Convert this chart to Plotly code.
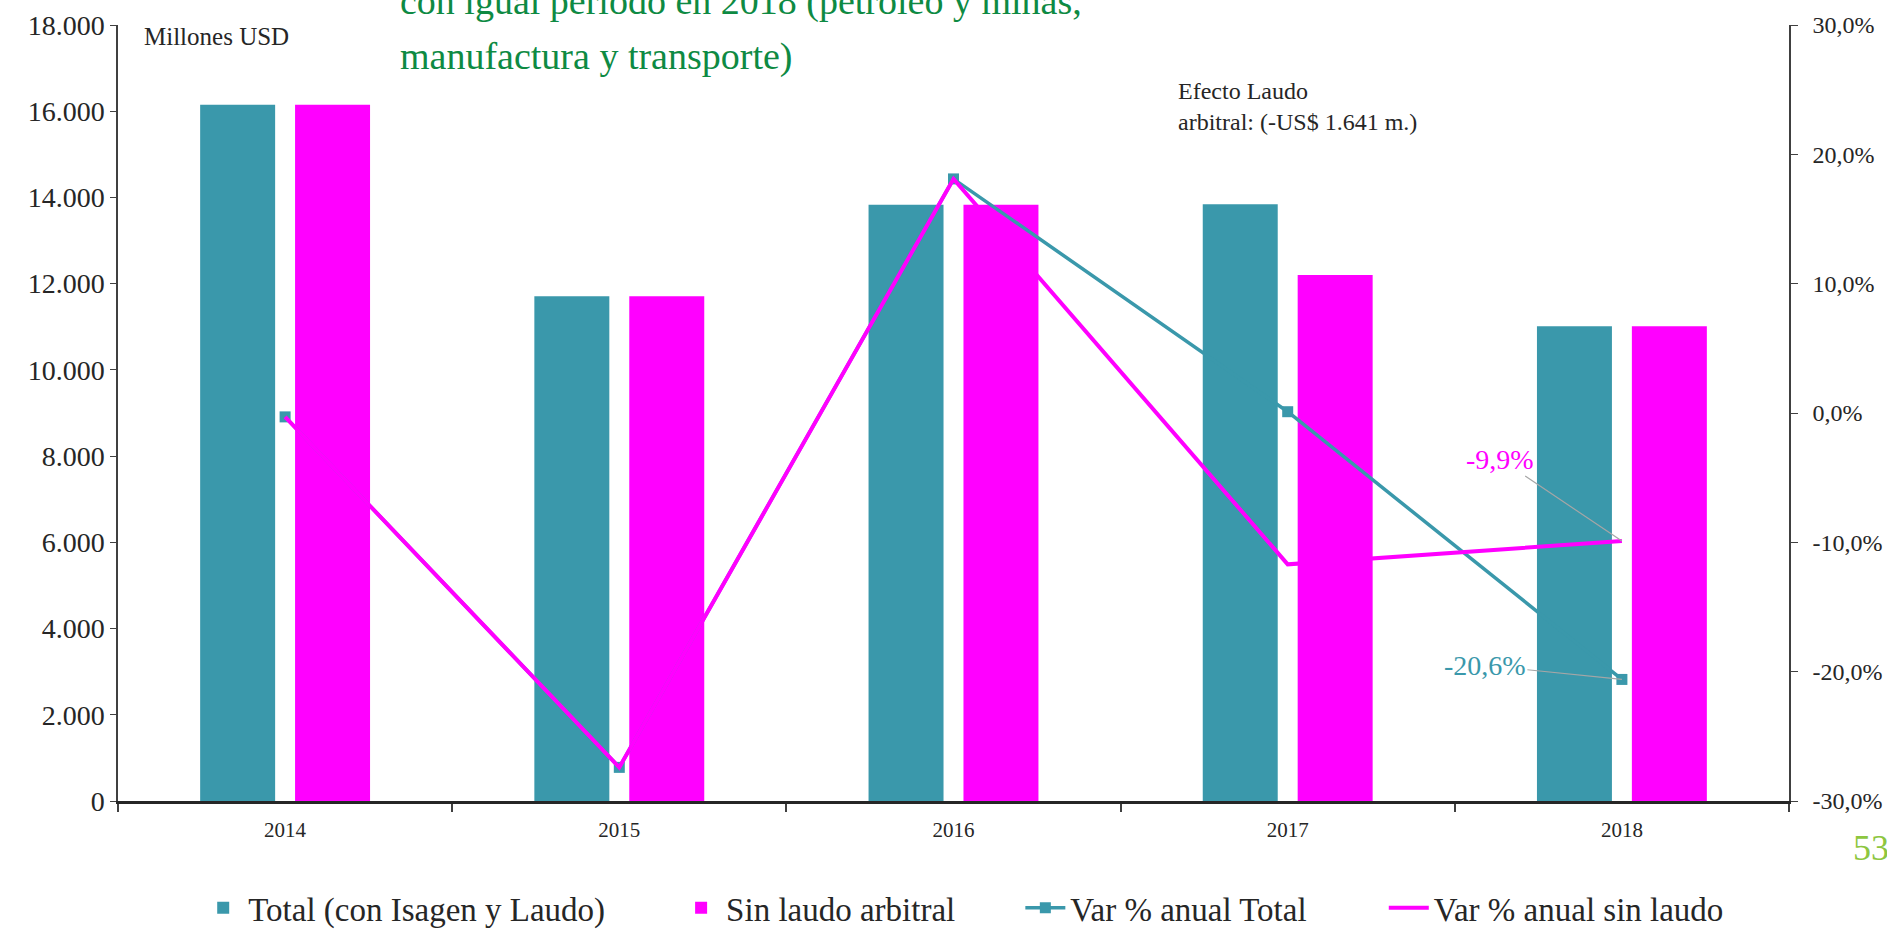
import plotly.graph_objects as go

years = ["2014", "2015", "2016", "2017", "2018"]
total = [16150, 11710, 13830, 13840, 11010]
sin_laudo = [16150, 11710, 13830, 12200, 11010]
var_total = [-0.003, -0.274, 0.181, 0.001, -0.206]
var_sin = [-0.003, -0.274, 0.181, -0.117, -0.099]

y2_ticks = [-0.3, -0.2, -0.1, 0.0, 0.1, 0.2, 0.3]
y2_labels = ["-30,0%", "-20,0%", "-10,0%", "0,0%", "10,0%", "20,0%", "30,0%"]

TEAL = "#3A98AB"
MAG = "#FF00FF"
TXT = "#262626"
FONT = "Liberation Serif"
LEG_FONT = dict(size=33, color=TXT, family=FONT)

fig = go.Figure()
fig.add_trace(go.Bar(x=years, y=total, name="Total (con Isagen y Laudo)",
                     marker=dict(color=TEAL, line=dict(width=0)), yaxis="y", legend="legend"))
fig.add_trace(go.Bar(x=years, y=sin_laudo, name="Sin laudo arbitral",
                     marker=dict(color=MAG, line=dict(width=0)), yaxis="y", legend="legend2"))
fig.add_trace(go.Scatter(x=years, y=var_total, name="Var % anual Total", yaxis="y2",
                         mode="lines+markers", line=dict(color=TEAL, width=3.5),
                         marker=dict(symbol="square", size=11, color=TEAL), legend="legend3"))
fig.add_trace(go.Scatter(x=years, y=var_sin, name="Var % anual sin laudo", yaxis="y2",
                         mode="lines", line=dict(color=MAG, width=4), legend="legend4"))

def leg(x):
    return dict(orientation="h", x=x, xanchor="left", y=-0.1375, yanchor="middle",
                font=LEG_FONT, itemwidth=40, bgcolor="rgba(0,0,0,0)")

fig.update_layout(
    width=1887, height=931,
    margin=dict(l=118, r=98, t=25, b=130, autoexpand=False),
    paper_bgcolor="white", plot_bgcolor="white",
    separators=",.",
    barmode="group", bargap=0.432, bargroupgap=0.21,
    font=dict(family=FONT, color=TXT, size=24),
    showlegend=True,
    legend=leg(0.048), legend2=leg(0.334), legend3=leg(0.540), legend4=leg(0.7575),
    xaxis=dict(type="category", range=[-0.5, 4.5], tickson="boundaries", ticks="outside",
               ticklen=8, tickcolor="#404040", tickwidth=1.5, showline=True,
               linecolor="#262626", linewidth=3, showgrid=False, automargin=False,
               tickangle=0, ticklabelstandoff=8, tickfont=dict(size=21, color=TXT)),
    yaxis=dict(range=[0, 18000], dtick=2000, tickformat=",.0f", ticks="outside", ticklen=6,
               tickcolor="#404040", showline=True, linecolor="#404040", linewidth=1.5,
               showgrid=False, zeroline=False, automargin=False,
               tickfont=dict(size=28, color=TXT)),
    yaxis2=dict(range=[-0.3, 0.3], overlaying="y", side="right", tickvals=y2_ticks,
                ticktext=y2_labels, ticks="outside", ticklen=7, tickcolor="#404040",
                showline=True, linecolor="#404040", linewidth=1.5, showgrid=False,
                zeroline=False, automargin=False, ticklabelstandoff=10,
                tickfont=dict(size=24, color=TXT)),
)

last = len(years) - 1
anns = [
    dict(text="Millones USD", xref="paper", yref="paper", x=0.0146, y=0.9854,
         xanchor="left", yanchor="middle", showarrow=False, font=dict(size=25, color=TXT)),
    dict(text="Efecto Laudo<br>arbitral: (-US$ 1.641 m.)", xref="paper", yref="paper",
         x=0.633, y=0.895, xanchor="left", yanchor="middle", align="left",
         showarrow=False, font=dict(size=24, color=TXT)),
    dict(text="con igual período en 2018 (petróleo y minas,", xref="paper", yref="paper",
         x=0.1673, y=1.030, xanchor="left", yanchor="middle", showarrow=False,
         font=dict(size=38, color="#0E8A43")),
    dict(text="manufactura y transporte)", xref="paper", yref="paper",
         x=0.1673, y=0.9592, xanchor="left", yanchor="middle", showarrow=False,
         font=dict(size=38, color="#0E8A43")),
    dict(text="53", xref="paper", yref="paper", x=1.037, y=-0.061, xanchor="left",
         yanchor="middle", showarrow=False, font=dict(size=36, color="#8DC63F")),
    dict(text="-9,9%", x=last, y=var_sin[last], xref="x", yref="y2", ax=-122, ay=-82,
         showarrow=True, arrowhead=0, arrowwidth=1.2, arrowcolor="#A6A6A6", standoff=0,
         font=dict(size=28, color=MAG)),
    dict(text="-20,6%", x=last, y=var_total[last], xref="x", yref="y2", ax=-137, ay=-14,
         showarrow=True, arrowhead=0, arrowwidth=1.2, arrowcolor="#A6A6A6", standoff=0,
         font=dict(size=28, color=TEAL)),
]
fig.update_layout(annotations=anns)

fig.write_html("out.html", config={"displayModeBar": False},
               post_script="document.body.style.margin='0';document.body.style.overflow='hidden';")
